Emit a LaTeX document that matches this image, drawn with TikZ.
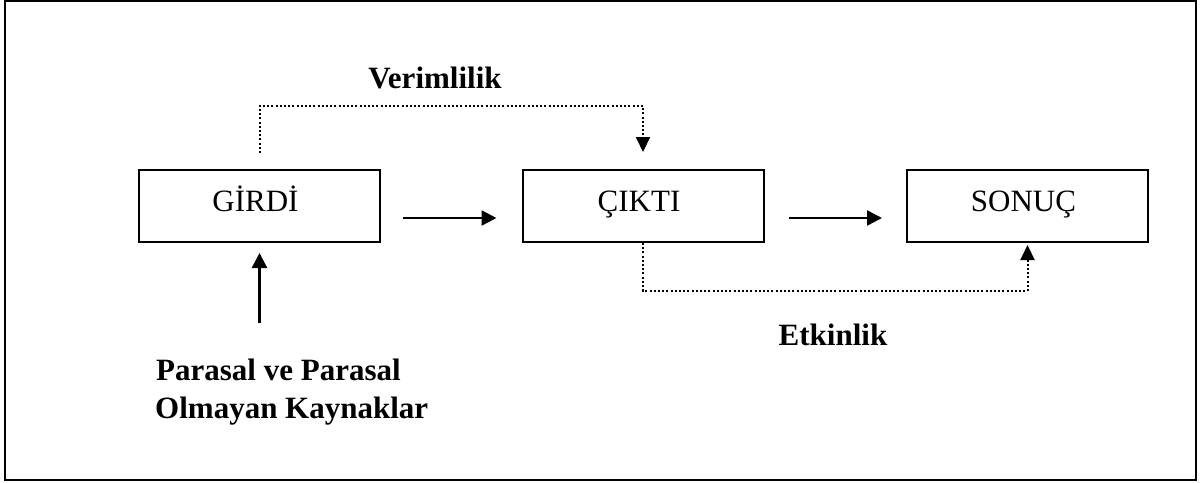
\documentclass[tikz,border=0pt]{standalone}
\usepackage{fontspec}
\setmainfont{Liberation Serif}
\usetikzlibrary{arrows.meta}
\begin{document}
\begin{tikzpicture}[x=1pt,y=-1pt,
  box/.style={draw,line width=2pt,minimum width=241pt,minimum height=72pt,inner sep=0pt,
    font=\fontsize{31}{37}\selectfont,text height=20pt,text depth=10pt},
  lbl/.style={font=\bfseries\fontsize{31}{37}\selectfont,inner sep=0pt,anchor=base},
  solidarrow/.style={line width=2.4pt,-{Triangle[length=15pt,width=15pt]}},
  dotarrow/.style={line width=2pt,dash pattern=on 2pt off 2.2pt,-{Triangle[length=15pt,width=14pt]}}]
\useasboundingbox (0,0) rectangle (1204,482);
\draw[line width=2pt] (5,1) rectangle (1196,480);
\node[box] (girdi) at (259.5,206) {GİRDİ\kern8pt};
\node[box] (cikti) at (643,206) {ÇIKTI\kern8pt};
\node[box] (sonuc) at (1027.5,206) {SONUÇ\kern8pt};
\node[lbl] (verim) at (435,88) {Verimlilik};
\node[lbl] (etkin) at (833,345) {Etkinlik};
\node[lbl,anchor=base west] (kaynak1) at (156,380) {Parasal ve Parasal};
\node[lbl,anchor=base west] (kaynak2) at (155,418) {Olmayan Kaynaklar};
\draw[solidarrow] ([xshift=22pt,yshift=-12pt]girdi.east) -- ([xshift=-25pt,yshift=-12pt]cikti.west);
\draw[solidarrow] ([xshift=24pt,yshift=-12pt]cikti.east) -- ([xshift=-24pt,yshift=-12pt]sonuc.west);
\coordinate (upstart) at (259.5,323);
\draw[solidarrow] (upstart) -- ([yshift=-10pt]girdi.south);
\coordinate (vy) at (0,106);
\draw[dotarrow] ([yshift=16pt]girdi.north) -- (girdi.north |- vy) -- (cikti.north |- vy) -- ([yshift=17pt]cikti.north);
\coordinate (ey) at (0,291);
\draw[dotarrow] (cikti.south) -- (cikti.south |- ey) -- (sonuc.south |- ey) -- ([yshift=-2pt]sonuc.south);
\end{tikzpicture}
\end{document}
